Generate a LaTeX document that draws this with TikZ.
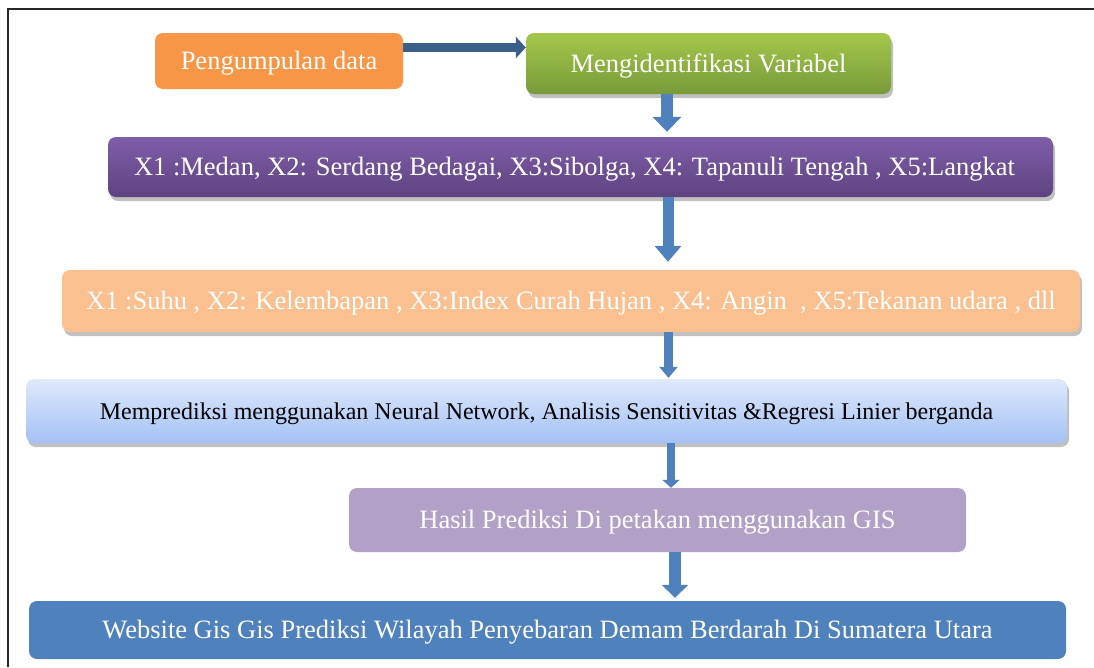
\documentclass[tikz,border=0pt]{standalone}
\usepackage{fontspec}
\setmainfont{Liberation Serif}
\usetikzlibrary{arrows.meta,shadows}
\definecolor{cOrange}{HTML}{F79646}
\definecolor{cGreenT}{HTML}{A4C84B}
\definecolor{cGreenB}{HTML}{789A3A}
\definecolor{cPurpT}{HTML}{7F5DA8}
\definecolor{cPurpB}{HTML}{5E4380}
\definecolor{cPeach}{HTML}{FAC090}
\definecolor{cBlueT}{HTML}{DFE9FB}
\definecolor{cBlueB}{HTML}{A3C1F5}
\definecolor{cLilac}{HTML}{B2A1C7}
\definecolor{cSteel}{HTML}{4F81BD}
\definecolor{cDark}{HTML}{3A5F8B}
\tikzset{
  box/.style={rounded corners=8pt, inner sep=0pt, text=white,
    font=\fontsize{26.5}{30}\selectfont, text height=17.5pt, text depth=0pt},
  shad/.style={drop shadow={shadow xshift=2pt, shadow yshift=-4pt, opacity=0.35, fill=black!70}},
  varrow/.style={draw=cSteel, line width=#1},
  harrow/.style={draw=cDark, line width=9pt, -{Triangle[length=10pt,width=21pt]}},
}
\begin{document}
\begin{tikzpicture}[x=1pt,y=-1pt]
\useasboundingbox (0,0) rectangle (1094,667);
\fill[white] (0,0) rectangle (1094,667);
\draw[line width=2pt, black!85] (8,667) -- (8,9) -- (1094,9);

\node[box, fill=cOrange, minimum width=248pt, minimum height=56pt] (pd) at (279,61) {Pengumpulan data};
\node[box, shad, top color=cGreenT, bottom color=cGreenB, minimum width=365pt, minimum height=61pt] (mv) at (708.5,63.5) {Mengidentifikasi Variabel};
\node[box, shad, top color=cPurpT, bottom color=cPurpB, minimum width=945pt, minimum height=60pt] (md) at (580.5,167) {};
\node at (574.5,167) [box] {X1 :Medan, X2: Serdang Bedagai, X3:Sibolga, X4: Tapanuli Tengah , X5:Langkat};
\node[box, shad, fill=cPeach, minimum width=1018pt, minimum height=62pt] (sh) at (571,301) {X1 :Suhu , X2: Kelembapan , X3:Index Curah Hujan , X4: Angin~ , X5:Tekanan udara , dll};
\node[box, shad, top color=cBlueT, bottom color=cBlueB, minimum width=1041pt, minimum height=64pt, text=black, font=\fontsize{24}{28}\selectfont, text height=16pt] (mp) at (546.5,411) {Memprediksi menggunakan Neural Network, Analisis Sensitivitas \&Regresi Linier berganda};
\node[box, fill=cLilac, minimum width=617pt, minimum height=64pt] (hp) at (657.5,520) {Hasil Prediksi Di petakan menggunakan GIS};
\node[box, fill=cSteel, minimum width=1037pt, minimum height=58pt] (web) at (547.5,630) {Website Gis Gis Prediksi Wilayah Penyebaran Demam Berdarah Di Sumatera Utara};

\coordinate (ya) at (0,47.5);
\draw[harrow] (pd.east |- ya) -- (mv.west |- ya);

\coordinate (xa) at (667,0);
\coordinate (xb) at (668,0);
\coordinate (xc) at (668.5,0);
\coordinate (xd) at (671,0);
\coordinate (xe) at (675,0);
\draw[varrow=12pt, -{Triangle[length=15pt,width=28pt]}] (mv.south -| xa) -- ([yshift=5pt]md.north -| xa);
\draw[varrow=11pt, -{Triangle[length=16pt,width=26pt]}] (md.south -| xb) -- ([yshift=8pt]sh.north -| xb);
\draw[varrow=9pt, -{Triangle[length=11pt,width=18pt]}] (sh.south -| xc) -- ([yshift=1pt]mp.north -| xc);
\draw[varrow=8pt, -{Triangle[length=8pt,width=17pt]}] (mp.south -| xd) -- (hp.north -| xd);
\draw[varrow=12pt, -{Triangle[length=13pt,width=26pt]}] (hp.south -| xe) -- ([yshift=3pt]web.north -| xe);
\end{tikzpicture}
\end{document}
